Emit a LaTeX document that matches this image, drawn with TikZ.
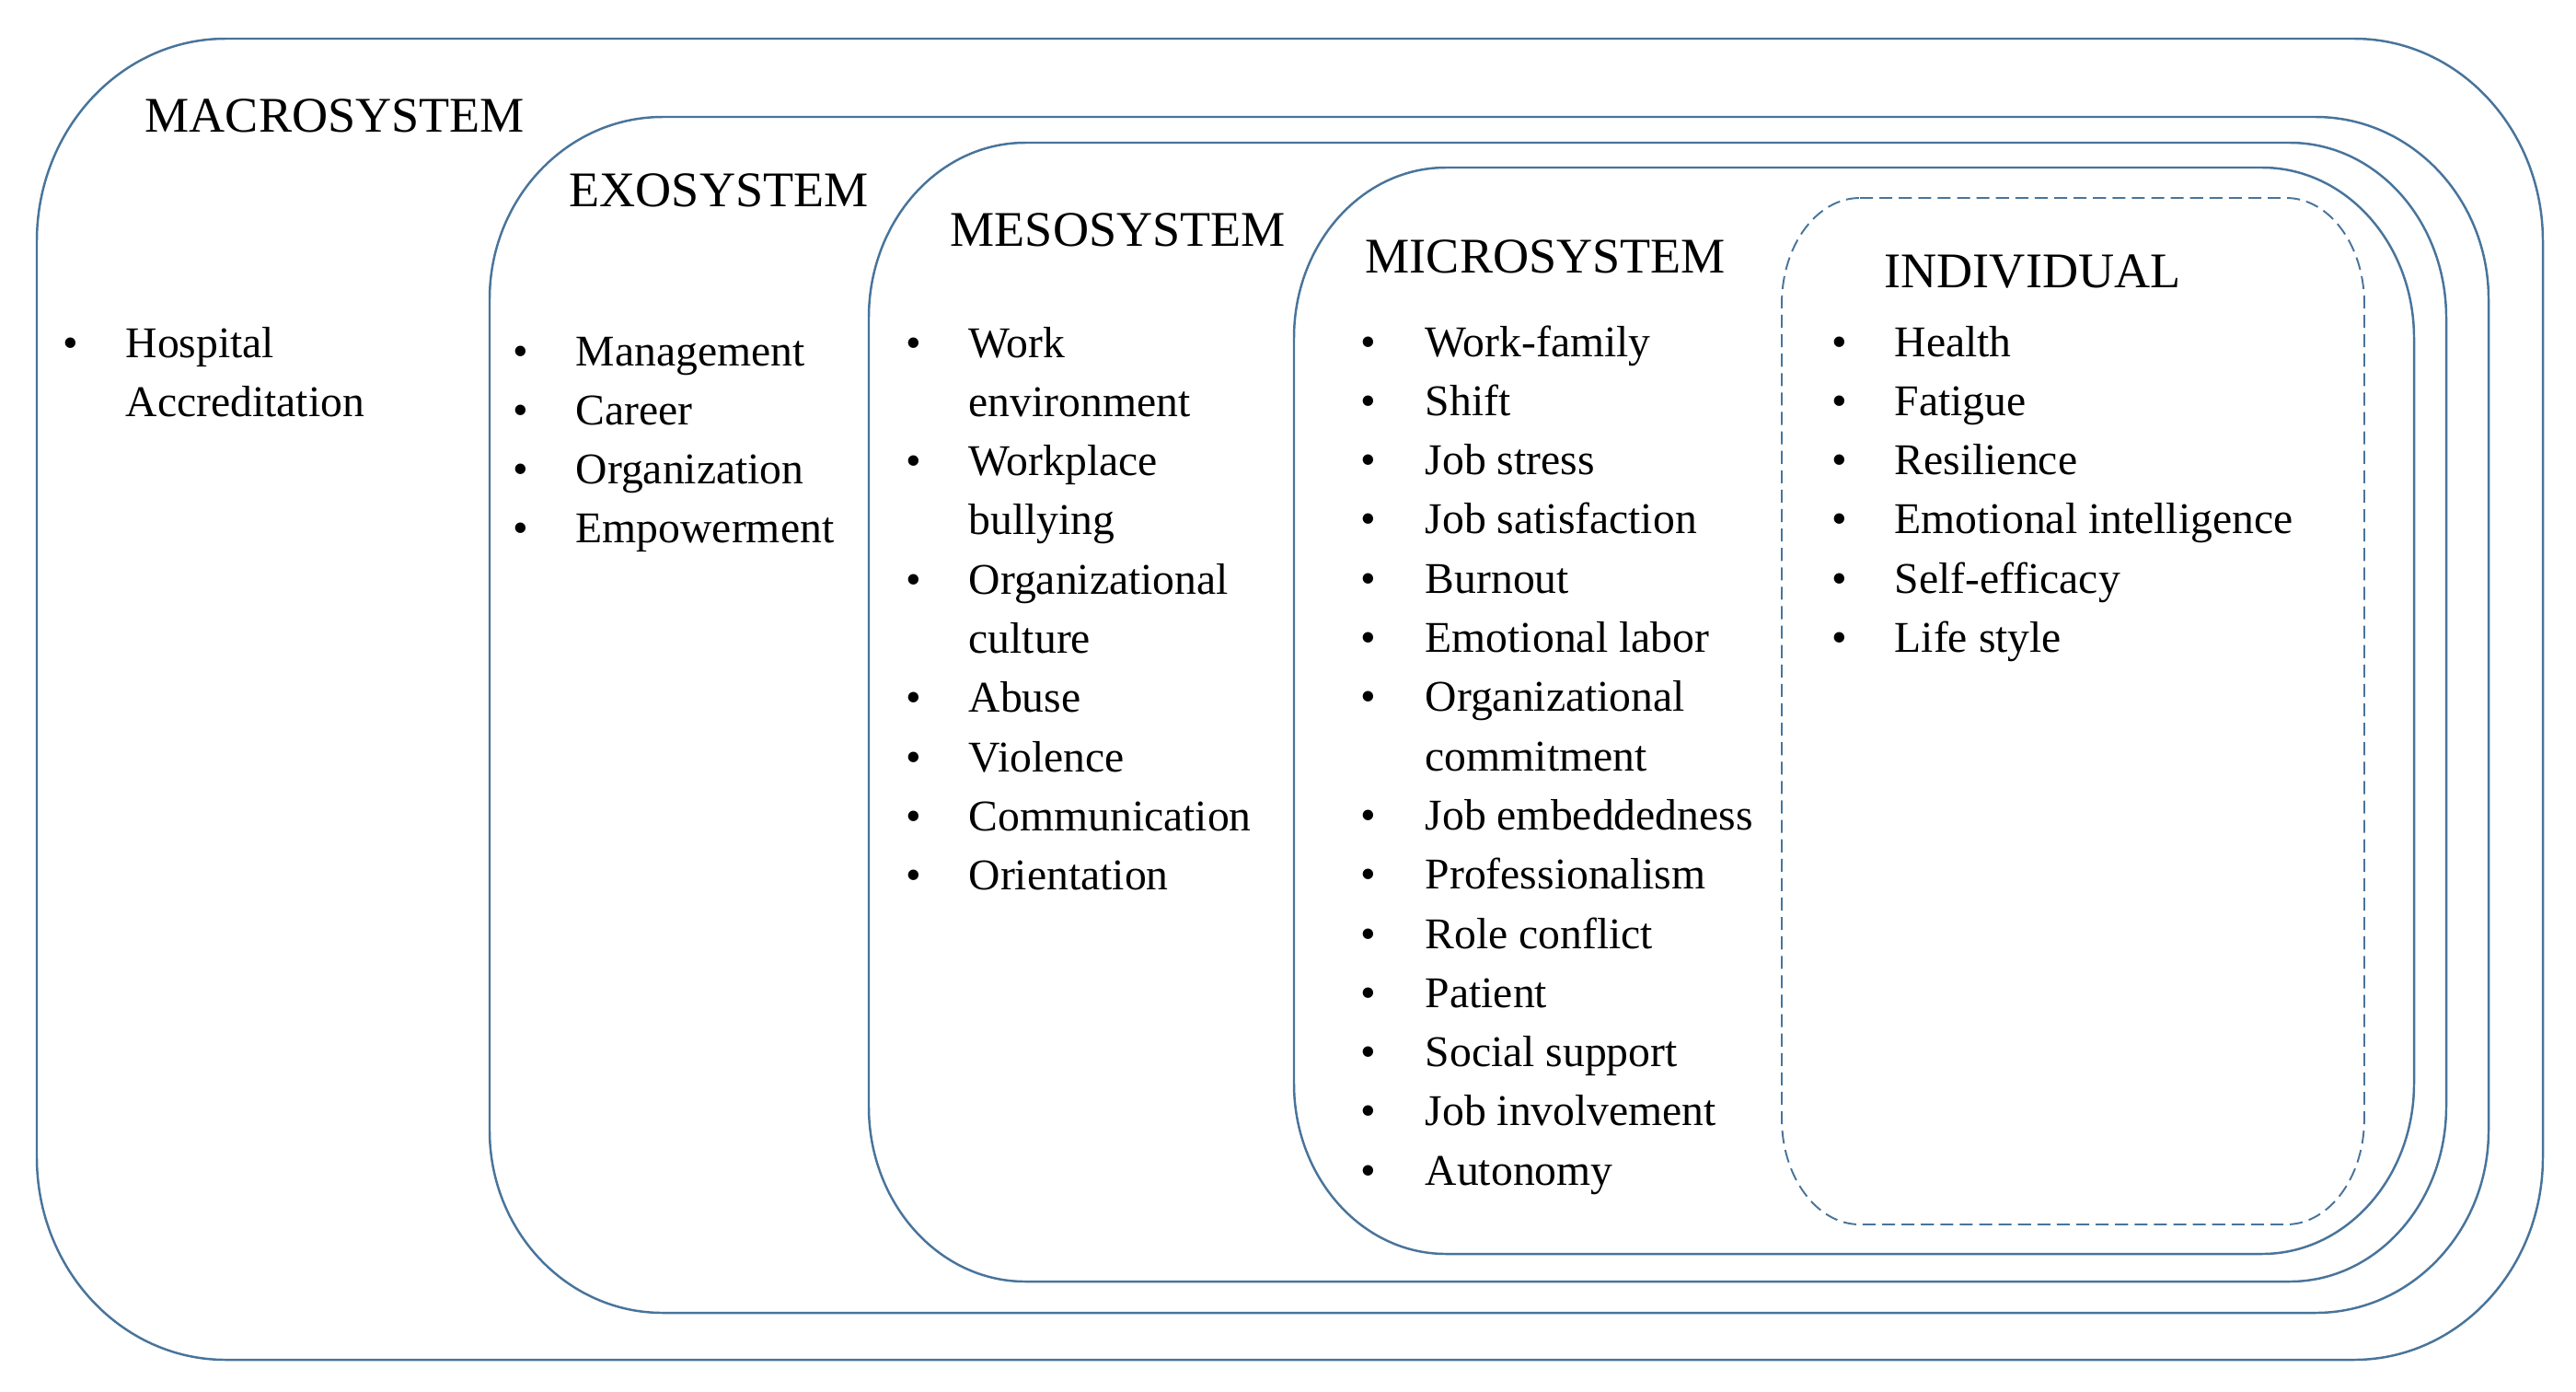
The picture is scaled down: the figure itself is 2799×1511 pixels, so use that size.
\documentclass[tikz,border=0pt]{standalone}
\usepackage{fontspec}
\setmainfont{Liberation Serif}
\definecolor{sysline}{RGB}{72,116,155}
\tikzset{
  sysbox/.style={draw=sysline, line width=0.7pt},
  indbox/.style={draw=sysline, line width=0.55pt, dash pattern=on 4pt off 2pt},
  head/.style={anchor=base west, inner sep=0pt, font=\fontsize{15.4pt}{18pt}\selectfont},
  txt/.style={anchor=base west, inner sep=0pt, font=\fontsize{13.55pt}{18pt}\selectfont},
  bul/.style={anchor=base, inner sep=0pt, font=\fontsize{13.55pt}{18pt}\selectfont},
}
% #1 style, #2 x1, #3 y1, #4 x2, #5 y2, #6 rx, #7 ry  (pixel units, y downwards)
\newcommand\roundbox[7]{%
  \draw[#1] ({#2+#6},#3) -- ({#4-#6},#3)
    arc[start angle=90, end angle=0, x radius=#6*0.01cm, y radius=#7*0.01cm]
    -- (#4,{#5-#7})
    arc[start angle=0, end angle=-90, x radius=#6*0.01cm, y radius=#7*0.01cm]
    -- ({#2+#6},#5)
    arc[start angle=270, end angle=180, x radius=#6*0.01cm, y radius=#7*0.01cm]
    -- (#2,{#3+#7})
    arc[start angle=180, end angle=90, x radius=#6*0.01cm, y radius=#7*0.01cm]
    -- cycle;}
\newcommand\itemcol[5]{% #1 prefix, #2 bullet x, #3 text x, #4 first baseline, #5 list
  \foreach [count=\i] \t/\b in {#5} {
    \node[txt] (#1t\i) at (#3,{#4+(\i-1)*64.3}) {\t};
    \ifnum\b=1 \node[bul] (#1b\i) at (#2,{#4+(\i-1)*64.3}) {•};\fi
  }}
\begin{document}
\begin{tikzpicture}[x=0.01cm, y=-0.01cm]
  \useasboundingbox (0,0) rectangle (2799,1511);
  % nested system boxes
  \roundbox{sysbox}{40}{42}{2763}{1477}{205}{220}
  \roundbox{sysbox}{532}{127}{2704}{1426}{188}{198}
  \roundbox{sysbox}{944}{155}{2658}{1392}{170}{190}
  \roundbox{sysbox}{1406}{182}{2623}{1362}{165}{185}
  \roundbox{indbox}{1936}{215}{2569}{1330}{85}{115}
  % headings
  \node[head] (macro) at (157,143) {MACROSYSTEM};
  \node[head] (exo) at (618,224) {EXOSYSTEM};
  \node[head] (meso) at (1032,267) {MESOSYSTEM};
  \node[head] (micro) at (1483,296) {MICROSYSTEM};
  \node[head] (indiv) at (2047,312) {INDIVIDUAL};
  % item lists
  \itemcol{ma}{77}{136}{388}{Hospital/1, Accreditation/0}
  \itemcol{ex}{566}{625}{397}{Management/1, Career/1, Organization/1, Empowerment/1}
  \itemcol{me}{993}{1052}{388}{Work/1, environment/0, Workplace/1, bullying/0,
    Organizational/1, culture/0, Abuse/1, Violence/1, Communication/1, Orientation/1}
  \itemcol{mi}{1487}{1548}{387}{Work-family/1, Shift/1, Job stress/1, Job satisfaction/1,
    Burnout/1, Emotional labor/1, Organizational/1, commitment/0, Job embeddedness/1,
    Professionalism/1, Role conflict/1, Patient/1, Social support/1, Job involvement/1,
    Autonomy/1}
  \itemcol{in}{1999}{2058}{387}{Health/1, Fatigue/1, Resilience/1,
    Emotional intelligence/1, Self-efficacy/1, Life style/1}
\end{tikzpicture}
\end{document}
